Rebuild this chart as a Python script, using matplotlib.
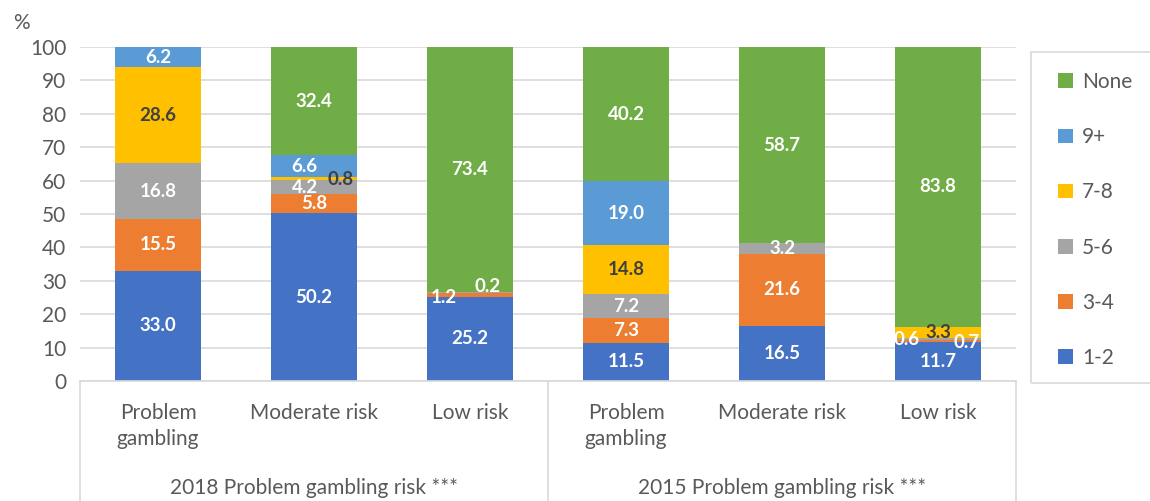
import matplotlib
matplotlib.use("Agg")
import matplotlib.pyplot as plt
import matplotlib.transforms as mtransforms
from matplotlib.patches import Rectangle
import numpy as np

plt.rcParams['font.family'] = ['Lato', 'DejaVu Sans']

# data
groups = ["2018 Problem gambling risk ***", "2015 Problem gambling risk ***"]
categories = ["Problem\ngambling", "Moderate risk", "Low risk",
              "Problem\ngambling", "Moderate risk", "Low risk"]
series = ["1-2", "3-4", "5-6", "7-8", "9+", "None"]
s_1_2 = [33.0, 50.2, 25.2, 11.5, 16.5, 11.7]
s_3_4 = [15.5, 5.8, 1.2, 7.3, 21.6, 0.6]
s_5_6 = [16.8, 4.2, 0.2, 7.2, 3.2, 0.7]
s_7_8 = [28.6, 0.8, 0.0, 14.8, 0.0, 3.3]
s_9p = [6.2, 6.6, 0.0, 19.0, 0.0, 0.0]
s_none = [0.0, 32.4, 73.4, 40.2, 58.7, 83.8]
values = [s_1_2, s_3_4, s_5_6, s_7_8, s_9p, s_none]

colors = ["#4472C4", "#ED7D31", "#A5A5A5", "#FFC000", "#5B9BD5", "#70AD47"]
label_colors = ["white", "white", "white", "#404040", "white", "white"]
grey_txt = "#595959"
grid_c = "#D9D9D9"

# hand-moved labels for thin segments (dx in bar units, dy in %)
label_shift = {(1, 2): (-0.17, -0.7), (2, 2): (0.11, 1.9),
               (3, 1): (0.17, -0.4), (2, 1): (-0.06, 0), (4, 1): (-0.06, 0),
               (1, 5): (-0.2, 0.3), (2, 5): (0.18, -1.25)}

fig = plt.figure(figsize=(11.5, 5.01), dpi=100)
ax = fig.add_axes([0.0696, 0.2395, 0.8139, 0.6665])

x = np.arange(len(categories))
bottom = np.zeros(len(categories))
for i, (name, vals) in enumerate(zip(series, values)):
    vals = np.array(vals)
    ax.bar(x, vals, 0.55, bottom=bottom, color=colors[i], label=name,
           edgecolor="none", zorder=2)
    for j, v in enumerate(vals):
        if v <= 0:
            continue
        dx, dy = label_shift.get((i, j), (0, 0))
        ax.text(x[j] + dx, bottom[j] + v / 2 + dy, f"{v:.1f}",
                ha="center", va="center", fontsize=13.5, fontweight="bold",
                color=label_colors[i], zorder=3)
    bottom += vals

ax.set_xlim(-0.5, len(categories) - 0.5)
ax.set_ylim(0, 100)
ax.set_yticks(range(0, 101, 10))
ax.yaxis.grid(True, color=grid_c, lw=1.2, zorder=0)
ax.tick_params(axis="y", length=0, labelsize=15, labelcolor=grey_txt, pad=10)
ax.set_xticks(x)
ax.set_xticklabels(categories, fontsize=15, color=grey_txt, linespacing=1.4)
ax.tick_params(axis="x", length=0, pad=15.5)
for s in ["top", "right", "left"]:
    ax.spines[s].set_visible(False)
ax.spines["bottom"].set_color(grid_c)
ax.spines["bottom"].set_linewidth(1.2)

# multi-level category axis
trans = mtransforms.blended_transform_factory(ax.transData, ax.transAxes)
for xs in [-0.5, 2.5, 5.5]:
    ax.plot([xs, xs], [0, -0.37], color=grid_c, lw=1.2, transform=trans,
            clip_on=False)
for k, g in enumerate(groups):
    ax.text(1 + 3 * k, -0.32, g, transform=trans, ha="center", va="center",
            fontsize=15, color=grey_txt)

fig.text(0.011, 0.955, "%", fontsize=15, color=grey_txt, ha="left", va="center")

# legend
W, H = 1150, 501
fig.patches.append(Rectangle((1031 / W, (H - 383) / H), 140 / W, 331 / H,
                             transform=fig.transFigure, fill=False,
                             edgecolor=grid_c, lw=1.2))
h, l = ax.get_legend_handles_labels()
leg = fig.legend(h[::-1], l[::-1], loc="upper left",
                 bbox_to_anchor=(1058 / W, (H - 72) / H),
                 frameon=False, fontsize=15, labelspacing=1.69,
                 handlelength=0.7, handleheight=0.7, handletextpad=0.45,
                 borderpad=0, borderaxespad=0)
for t in leg.get_texts():
    t.set_color(grey_txt)

fig.savefig("out.png", dpi=100)
